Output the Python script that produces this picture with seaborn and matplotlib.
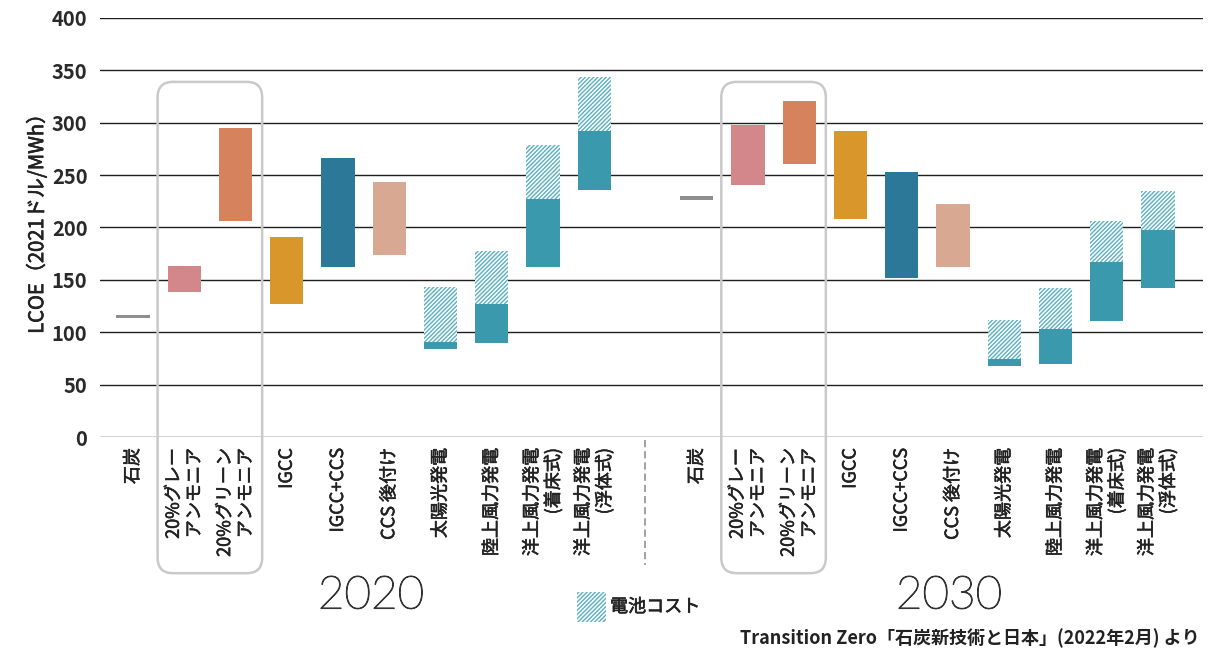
import numpy as np
import pandas as pd
import matplotlib
matplotlib.use("Agg")
import matplotlib.pyplot as plt
import matplotlib.patheffects as pe
import seaborn as sns
from matplotlib.patches import FancyBboxPatch, Rectangle

# ---------------- data ----------------
categories = ["石炭", "20%グレー\nアンモニア", "20%グリーン\nアンモニア", "IGCC", "IGCC+CCS",
              "CCS 後付け", "太陽光発電", "陸上風力発電", "洋上風力発電\n(着床式)", "洋上風力発電\n(浮体式)"]
years = ["2020", "2030"]

low_2020 = [115, 138, 206, 127, 162, 174, 84, 90, 162, 236]
high_2020 = [115, 163, 295, 191, 266, 243, 91, 127, 227, 292]
battery_2020 = [np.nan, np.nan, np.nan, np.nan, np.nan, np.nan, 143, 178, 279, 344]

low_2030 = [228, 241, 261, 208, 152, 162, 68, 70, 111, 142]
high_2030 = [228, 298, 321, 292, 253, 222, 74, 103, 167, 198]
battery_2030 = [np.nan, np.nan, np.nan, np.nan, np.nan, np.nan, 112, 142, 206, 235]

colors = ["#8e8e8e", "#d4878a", "#d6825c", "#d9962b", "#2c7898",
          "#d8a892", "#3b99ad", "#3b99ad", "#3b99ad", "#3b99ad"]
hatch_color = "#5aafc0"
legend_label = "電池コスト"
ylabel = "LCOE（2021ドル/MWh）"
source = "Transition Zero「石炭新技術と日本」(2022年2月) より"

# ---------------- style ----------------
sns.set_theme(style="white")
plt.rcParams["font.family"] = ["Noto Sans CJK JP", "DejaVu Sans"]
plt.rcParams["hatch.linewidth"] = 1.0

rows = []
for yi, (lo, hi, bt) in enumerate([(low_2020, high_2020, battery_2020),
                                   (low_2030, high_2030, battery_2030)]):
    for ci, cat in enumerate(categories):
        rows.append(dict(pos=ci + yi * 11, cat=cat, year=years[yi],
                         low=lo[ci], high=hi[ci], battery=bt[ci]))
df = pd.DataFrame(rows)
line_half = 1.8  # half thickness (data units) of the coal marker line
df["bottom"] = np.where(df["high"] > df["low"], df["low"], df["low"] - line_half)
df["top"] = np.where(df["high"] > df["low"], df["high"], df["high"] + line_half)
df["span"] = df["top"] - df["bottom"]

fig = plt.figure(figsize=(12.2, 6.52), dpi=100)
ax = fig.add_axes([100 / 1220, 1 - 437 / 652, 1103 / 1220, 419 / 652])


def row_for(p):
    cx = p.get_x() + p.get_width() / 2
    return df.iloc[(df["pos"] - cx).abs().argmin()]


palette = dict(zip(categories, colors))
n0 = len(ax.patches)
sns.barplot(data=df, x="pos", y="span", hue="cat", palette=palette, native_scale=True,
            dodge=False, width=0.65, errorbar=None, linewidth=0, legend=False,
            saturation=1, ax=ax)
for p in ax.patches[n0:]:
    p.set_y(row_for(p)["bottom"])

dfb = df[df["battery"].notna()].copy()
dfb["bspan"] = dfb["battery"] - dfb["high"]
n0 = len(ax.patches)
sns.barplot(data=dfb, x="pos", y="bspan", native_scale=True, color="white",
            edgecolor=hatch_color, hatch="////////", width=0.65, errorbar=None,
            linewidth=0, saturation=1, ax=ax)
for p in ax.patches[n0:]:
    p.set_facecolor("white")
    p.set_edgecolor(hatch_color)
    p.set_y(row_for(p)["high"])

# axes cosmetics
ax.set_ylim(0, 400)
ax.set_xlim(-0.644, 20.88)
ax.yaxis.grid(True, color="#1e1e1e", linewidth=1.0)
ax.xaxis.grid(False)
ax.set_axisbelow(True)
for s in ax.spines.values():
    s.set_visible(False)
ax.tick_params(axis="x", length=0, pad=8)
ax.tick_params(axis="y", length=0, pad=9)
ax.set_xlabel("")
medium = [pe.withStroke(linewidth=0.45, foreground="#222222")]
ax.set_ylabel(ylabel, fontsize=14.5, color="#222222", path_effects=medium)
ax.yaxis.set_label_coords(-0.047, 0.52)

# rounded boxes around ammonia columns
xu = 51.25  # px per x unit
yu = 419 / 400  # px per y unit
for g in range(2):
    x0 = 1 + g * 11 - 0.52
    box = FancyBboxPatch((x0, -130), 2.04, 469,
                         boxstyle="round,pad=0,rounding_size=0.3",
                         mutation_aspect=xu / yu, transform=ax.transData,
                         clip_on=False, fc="none", ec="#c9c9c9", lw=1.8, zorder=3)
    ax.add_patch(box)

# dashed separator
ax.plot([10, 10], [-3, -122], ls=(0, (4, 2.2)), color="#9a9a9a", lw=1.3, clip_on=False)

# tick labels (set last so properties stick)
ax.set_xticks(df["pos"].tolist())
ax.set_xticklabels(df["cat"].tolist(), rotation=90, va="top", ha="center",
                   multialignment="right", fontsize=13, color="#222222",
                   path_effects=[pe.withStroke(linewidth=0.4, foreground="#222222")])
ax.set_yticks(np.arange(0, 401, 50))
ax.set_yticklabels([str(v) for v in range(0, 401, 50)], fontsize=14.5,
                   fontweight="bold", color="#2a2a2a")

# year labels
for txt, xp in zip(years, [371, 949]):
    fig.text(xp / 1220, 1 - 596 / 652, txt, fontsize=33, fontweight="light",
             family=["Lato", "Noto Sans CJK JP"], color="#333333",
             ha="center", va="center",
             path_effects=[pe.withStroke(linewidth=0.8, foreground="#333333")])

# legend
fig.add_artist(Rectangle((577 / 1220, 1 - 622 / 652), 29 / 1220, 30 / 652,
                         transform=fig.transFigure, fc="white", ec=hatch_color,
                         lw=0, hatch="////////"))
fig.text(610 / 1220, 1 - 607 / 652, legend_label, fontsize=13, color="#222222",
         ha="left", va="center", path_effects=medium)

# source
fig.text(1200 / 1220, 1 - 638 / 652, source, fontsize=13, color="#222222",
         ha="right", va="center", fontweight="bold")

fig.savefig("out.png", dpi=100)
